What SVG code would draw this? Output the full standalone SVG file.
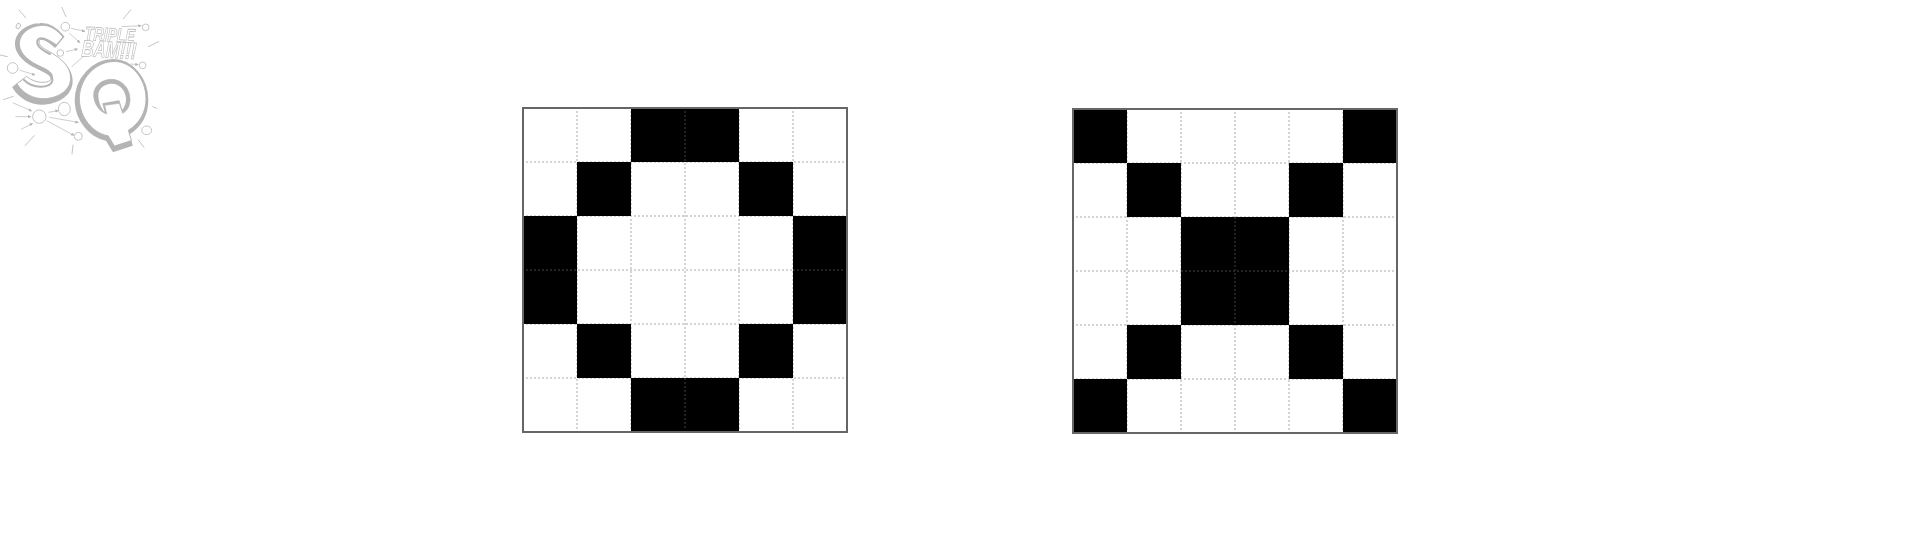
<svg xmlns="http://www.w3.org/2000/svg" xmlns:xlink="http://www.w3.org/1999/xlink" width="1920" height="540" viewBox="0 0 1920 540">
<style>
.g{stroke:#d4d4d4;stroke-width:2;stroke-dasharray:2 2;fill:none}
.d{stroke:#222;stroke-width:2;stroke-dasharray:2 2;fill:none}
.b{fill:none;stroke:#666;stroke-width:2}
.k{fill:#000}
.tick{stroke:#c4c4c4;stroke-width:3;fill:none;stroke-linecap:round}
.ar{stroke:#c4c4c4;stroke-width:2.5;fill:none;marker-end:url(#ah)}
.c{fill:#fff;stroke:#c4c4c4;stroke-width:3}
.dark{fill:#b4b4b4;stroke:#b4b4b4;stroke-width:6;stroke-linejoin:round}
.lite{fill:#fff;stroke:#b4b4b4;stroke-width:3;stroke-linejoin:round}
.ink{fill:none;stroke:#b4b4b4;stroke-width:6;stroke-linecap:round}
.t{font-family:"Liberation Sans",Arial,sans-serif;font-weight:700;font-style:italic;fill:#fff;stroke:#bdbdbd;stroke-width:2.4}
</style>
<defs>
<filter id="soft" x="-5%" y="-5%" width="110%" height="110%"><feGaussianBlur stdDeviation="1.3"/></filter>
<marker id="ah" viewBox="0 0 10 10" refX="9" refY="5" markerWidth="4" markerHeight="4" orient="auto" markerUnits="strokeWidth"><path d="M0 0L10 5L0 10z" fill="#b4b4b4"/></marker>
<g id="lines">
<path class="g" d="M54 3V321M108 3V321M162 3V321M216 3V321M270 3V321M3 54H321M3 108H321M3 162H321M3 216H321M3 270H321"/>
</g>
<path id="sPath" d="M190 110C170 85 145 70 120 72C80 74 46 100 48 135C50 165 80 190 115 205C140 217 158 225 155 243C150 262 100 265 72 238L40 262C60 295 95 312 130 311C180 308 217 280 215 240C213 205 185 180 150 160C125 147 108 135 113 122C120 110 140 118 165 140Z"/>
<path id="qOuter" d="M340 180C395 180 442 235 442 300C442 345 420 380 385 402L395 435L340 453L320 420C268 410 230 360 227 305C225 235 280 180 340 180Z"/>
<path id="qCounter" d="M335 238C365 238 390 265 390 298C390 318 382 332 368 340L358 310L314 316L320 342C298 335 281 310 281 285C281 258 305 238 335 238Z"/>
</defs>

<g id="logo" transform="scale(.33333)" filter="url(#soft)">
<g id="logo-rays">
<path class="tick" d="M57 30L77 53M185 22L198 50M392 30L370 56M476 125L445 140M0 165L22 170M10 299L40 289M458 320L470 325M103 407L75 437M219 435L216 462M415 420L432 442"/>
</g>
<g id="logo-arrows">
<path class="ar" d="M213 85L255 94"/><path class="ar" d="M208 100L240 128"/><path class="ar" d="M198 155L233 147"/><path class="ar" d="M215 200L258 163"/><path class="ar" d="M365 80L424 77"/><path class="ar" d="M392 192L415 194"/><path class="ar" d="M58 210L105 225"/><path class="ar" d="M38 308L95 333"/><path class="ar" d="M46 350L93 350"/><path class="ar" d="M63 388L98 370"/><path class="ar" d="M145 337L175 332"/><path class="ar" d="M148 352L235 367"/><path class="ar" d="M140 362L222 406"/>
</g>
<g id="logo-circles">
<ellipse class="c" cx="55" cy="78" rx="6" ry="8" transform="rotate(25 55 78)"/>
<circle class="c" cx="196" cy="80" r="13"/>
<circle class="c" cx="181" cy="159" r="10"/>
<circle class="c" cx="38" cy="204" r="16"/>
<circle class="c" cx="437" cy="82" r="10"/>
<circle class="c" cx="428" cy="196" r="10"/>
<circle class="c" cx="118" cy="350" r="20"/>
<ellipse class="c" cx="193" cy="327" rx="18" ry="20"/>
<circle class="c" cx="235" cy="409" r="12"/>
<ellipse class="c" cx="440" cy="391" rx="15" ry="13"/>
</g>
<g id="logo-s">
<use xlink:href="#sPath" class="dark"/>
<use xlink:href="#sPath" class="lite" transform="translate(14 10) scale(.92)"/>
<path class="ink" d="M168 136C140 115 118 108 112 122C108 138 125 150 150 162"/>
<path class="ink" d="M115 205C140 217 160 225 157 243C150 265 100 268 72 240"/>
</g>
<g id="logo-q">
<use xlink:href="#qOuter" class="dark"/>
<use xlink:href="#qOuter" class="lite" transform="translate(27 17) scale(.93)"/>
<use xlink:href="#qCounter" class="dark" style="stroke-width:2"/>
<path fill="#fff" d="M335 251C360 251 378 273 378 298C378 312 373 322 367 329L358 301L307 310L314 336C303 325 295 305 295 285C295 266 313 251 335 251Z"/>
</g>
<g id="logo-text">
<text class="t" font-size="58" x="255" y="124" textLength="150" lengthAdjust="spacingAndGlyphs" transform="rotate(3 330 100)">TRIPLE</text>
<text class="t" font-size="70" x="245" y="173" textLength="165" lengthAdjust="spacingAndGlyphs" transform="rotate(3 330 145)">BAM!!!</text>
</g>
</g>

<g id="grid-a">
<rect x="523" y="108" width="324" height="324" fill="#fff"/>
<use xlink:href="#lines" x="523" y="108"/>
<path class="k" d="M631 108h108v54H631zM577 162h54v54H577zM739 162h54v54H739zM523 216h54v108H523zM793 216h54v108H793zM577 324h54v54H577zM739 324h54v54H739zM631 378h108v54H631z"/>
<path class="d" d="M685 111V162M685 378V429M526 270H577M793 270H844"/>
<rect class="b" x="523" y="108" width="324" height="324"/>
</g>

<g id="grid-b">
<rect x="1073" y="109" width="324" height="324" fill="#fff"/>
<use xlink:href="#lines" x="1073" y="109"/>
<path class="k" d="M1073 109h54v54H1073zM1343 109h54v54H1343zM1127 163h54v54H1127zM1289 163h54v54H1289zM1181 217h108v108H1181zM1127 325h54v54H1127zM1289 325h54v54H1289zM1073 379h54v54H1073zM1343 379h54v54H1343z"/>
<path class="d" d="M1235 217V325M1181 271H1289"/>
<rect class="b" x="1073" y="109" width="324" height="324"/>
</g>
</svg>
